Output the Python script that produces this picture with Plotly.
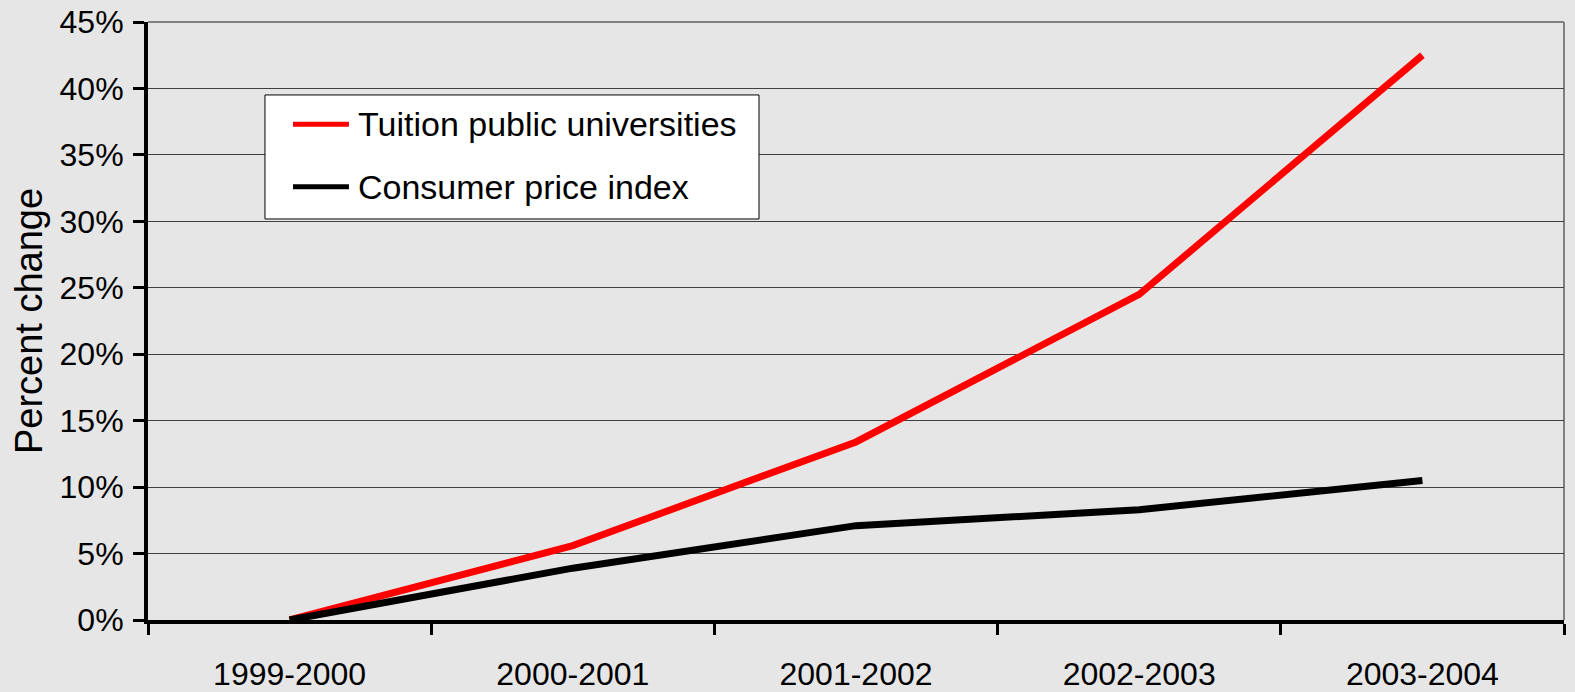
import plotly.graph_objects as go

# School years on the category axis
years = ["1999-2000", "2000-2001", "2001-2002", "2002-2003", "2003-2004"]

# Cumulative percent change since 1999-2000
tuition_public = [0, 5.6, 13.4, 24.5, 42.5]
consumer_price_index = [0, 3.9, 7.1, 8.3, 10.5]

series_names = ["Tuition public universities", "Consumer price index"]
series_colors = ["#FF0000", "#000000"]

y_ticks = [0, 5, 10, 15, 20, 25, 30, 35, 40, 45]

FONT = "Liberation Sans, Arial, sans-serif"
BG = "#E6E6E6"

fig = go.Figure()
for name, values, color in zip(series_names,
                               [tuition_public, consumer_price_index],
                               series_colors):
    fig.add_trace(go.Scatter(
        x=years, y=values, mode="lines", name=name,
        line=dict(color=color, width=7),
        showlegend=False,
    ))

fig.update_layout(
    width=1575, height=692,
    margin=dict(l=148, r=11, t=22, b=72, pad=0),
    paper_bgcolor=BG, plot_bgcolor=BG,
    font=dict(family=FONT, size=32, color="#000000"),
    xaxis=dict(
        type="category", range=[-0.5, 4.5], automargin=False,
        tickson="boundaries", ticks="outside", ticklen=11,
        tickwidth=3, tickcolor="#000000",
        showline=True, linecolor="#000000", linewidth=4,
        showgrid=False, zeroline=False,
        ticklabelstandoff=23,
    ),
    yaxis=dict(
        range=[0, 45], tickvals=y_ticks, automargin=False,
        ticktext=[f"{v}%" for v in y_ticks],
        ticks="outside", ticklen=11, tickwidth=3, tickcolor="#000000",
        showline=True, linecolor="#000000", linewidth=4,
        showgrid=True, gridcolor="#404040", gridwidth=1,
        zeroline=False, ticklabelstandoff=3,
        title=dict(text="Percent change", standoff=6),
    ),
)

# Plot-area frame on the top and right edges
fig.add_shape(type="line", xref="paper", yref="paper", x0=0, x1=1, y0=1, y1=1,
              line=dict(color="#808080", width=2), layer="below")
fig.add_shape(type="line", xref="paper", yref="paper", x0=1, x1=1, y0=0, y1=1,
              line=dict(color="#808080", width=2), layer="below")

# Boxed legend inside the plot area
fig.add_shape(type="rect", xref="paper", yref="paper",
              x0=0.0826, x1=0.4315, y0=0.6706, y1=0.878,
              fillcolor="#FFFFFF", line=dict(color="#000000", width=1),
              layer="above")
legend_rows_y = [0.829, 0.7246]
for name, color, ry in zip(series_names, series_colors, legend_rows_y):
    fig.add_shape(type="line", xref="paper", yref="paper",
                  x0=0.1024, x1=0.1419, y0=ry, y1=ry,
                  line=dict(color=color, width=5), layer="above")
    fig.add_annotation(xref="paper", yref="paper", x=0.1469, y=ry,
                       xanchor="left", yanchor="middle", showarrow=False,
                       text=name, font=dict(size=34, color="#000000"))

fig.write_html("out.html")
